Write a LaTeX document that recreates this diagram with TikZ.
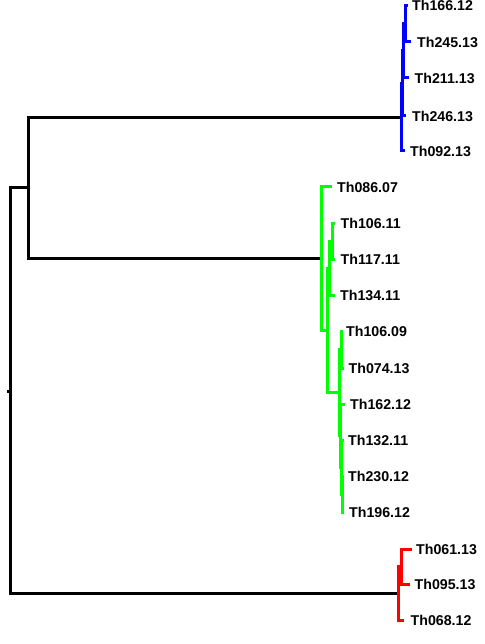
\documentclass[tikz,border=0pt]{standalone}
\usepackage{fontspec}
\setmainfont{Liberation Sans}
\usetikzlibrary{positioning}
\definecolor{clusterblue}{RGB}{0,0,255}
\definecolor{clustergreen}{RGB}{0,255,0}
\definecolor{clusterred}{RGB}{255,0,0}

\begin{document}
\begin{tikzpicture}[
    x=1pt, y=-1pt,
    branch/.style={line width=3pt, draw=black},
    bluebranch/.style={line width=3pt, draw=clusterblue},
    greenbranch/.style={line width=3pt, draw=clustergreen},
    redbranch/.style={line width=3pt, draw=clusterred},
    leaf/.style={inner sep=0pt, text=black, font=\bfseries\fontsize{14.2}{17}\selectfont}
]
    \useasboundingbox (0,0) rectangle (484,644);

    % inner nodes
    \coordinate (stub) at (6.5,391);
    \coordinate (root) at (10,391);
    \coordinate (upper) at (28,188);
    \coordinate (blueroot) at (401,117.2);
    \coordinate (greenroot) at (321,258.6);
    \coordinate (redroot) at (398,593.2);

    \coordinate (b1) at (405,23.7);
    \coordinate (b2) at (403.6,50.9);
    \coordinate (b3) at (402.3,83.4);

    \coordinate (g1) at (327.5,330.2);
    \coordinate (g2) at (329.8,268);
    \coordinate (g3) at (332.5,241);
    \coordinate (g4) at (339.5,392.5);
    \coordinate (g5) at (341.5,349.5);
    \coordinate (g6) at (340.4,435.5);
    \coordinate (g7) at (341.2,467);
    \coordinate (g8) at (342,494);

    \coordinate (r1) at (401.5,566.5);

    % leaves
    \coordinate (t166) at (407.5,5.5);
    \coordinate (t245) at (411,42);
    \coordinate (t211) at (409,78);
    \coordinate (t246) at (406,116);
    \coordinate (t092) at (405,151);

    \coordinate (t086) at (331.5,187);
    \coordinate (t10611) at (335,223);
    \coordinate (t117) at (335,259);
    \coordinate (t134) at (335,295);
    \coordinate (t10609) at (342,331.5);
    \coordinate (t074) at (343.5,368);
    \coordinate (t162) at (344.5,404);
    \coordinate (t132) at (343.5,440);
    \coordinate (t230) at (343.5,476);
    \coordinate (t196) at (344,512);

    \coordinate (t061) at (411.5,549);
    \coordinate (t095) at (410,584);
    \coordinate (t068) at (403.5,620);

    % black trunk
    \draw[branch] (stub) -- (root);
    \draw[branch] (root) |- (upper);
    \draw[branch] (root) |- (redroot);
    \draw[branch] (upper) |- (blueroot);
    \draw[branch] (upper) |- (greenroot);

    % blue cluster
    \draw[bluebranch] (blueroot) |- (b3);
    \draw[bluebranch] (blueroot) |- (t092);
    \draw[bluebranch] (b3) |- (b2);
    \draw[bluebranch] (b3) |- (t246);
    \draw[bluebranch] (b2) |- (b1);
    \draw[bluebranch] (b2) |- (t211);
    \draw[bluebranch] (b1) |- (t166);
    \draw[bluebranch] (b1) |- (t245);

    % green cluster
    \draw[greenbranch] (greenroot) |- (t086);
    \draw[greenbranch] (greenroot) |- (g1);
    \draw[greenbranch] (g1) |- (g2);
    \draw[greenbranch] (g1) |- (g4);
    \draw[greenbranch] (g2) |- (g3);
    \draw[greenbranch] (g2) |- (t134);
    \draw[greenbranch] (g3) |- (t10611);
    \draw[greenbranch] (g3) |- (t117);
    \draw[greenbranch] (g4) |- (g5);
    \draw[greenbranch] (g4) |- (g6);
    \draw[greenbranch] (g5) |- (t10609);
    \draw[greenbranch] (g5) |- (t074);
    \draw[greenbranch] (g6) |- (t162);
    \draw[greenbranch] (g6) |- (g7);
    \draw[greenbranch] (g7) |- (t132);
    \draw[greenbranch] (g7) |- (g8);
    \draw[greenbranch] (g8) |- (t230);
    \draw[greenbranch] (g8) |- (t196);

    % red cluster
    \draw[redbranch] (redroot) |- (r1);
    \draw[redbranch] (redroot) |- (t068);
    \draw[redbranch] (r1) |- (t061);
    \draw[redbranch] (r1) |- (t095);

    % labels
    \node[leaf, right=4.5pt of t166] (l166) {Th166.12};
    \node[leaf, right=6pt of t245] (l245) {Th245.13};
    \node[leaf, right=5.5pt of t211] (l211) {Th211.13};
    \node[leaf, right=6pt of t246] (l246) {Th246.13};
    \node[leaf, right=5pt of t092] (l092) {Th092.13};

    \node[leaf, right=5.5pt of t086] (l086) {Th086.07};
    \node[leaf, right=5.5pt of t10611] (l10611) {Th106.11};
    \node[leaf, right=5.5pt of t117] (l117) {Th117.11};
    \node[leaf, right=5pt of t134] (l134) {Th134.11};
    \node[leaf, right=4pt of t10609] (l10609) {Th106.09};
    \node[leaf, right=5pt of t074] (l074) {Th074.13};
    \node[leaf, right=5.5pt of t162] (l162) {Th162.12};
    \node[leaf, right=4.5pt of t132] (l132) {Th132.11};
    \node[leaf, right=4.5pt of t230] (l230) {Th230.12};
    \node[leaf, right=5pt of t196] (l196) {Th196.12};

    \node[leaf, right=4.5pt of t061] (l061) {Th061.13};
    \node[leaf, right=4.5pt of t095] (l095) {Th095.13};
    \node[leaf, right=7pt of t068] (l068) {Th068.12};
\end{tikzpicture}
\end{document}
